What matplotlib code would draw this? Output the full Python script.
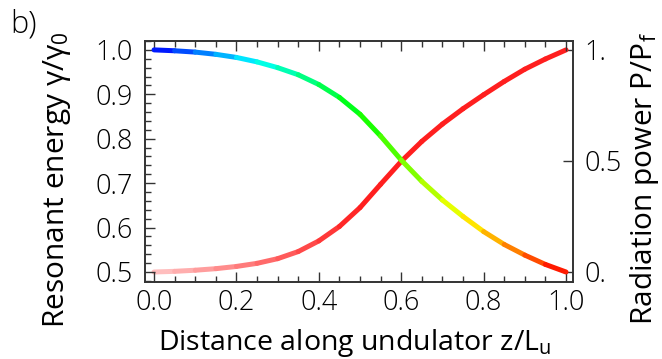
import numpy as np
import matplotlib
matplotlib.use('Agg')
import matplotlib.pyplot as plt
from matplotlib.collections import LineCollection
from matplotlib.ticker import MultipleLocator, FixedLocator, FixedFormatter
import colorsys

plt.rcParams['font.family'] = ['Open Sans', 'DejaVu Sans']
plt.rcParams['font.weight'] = 'light'
plt.rcParams['mathtext.fontset'] = 'custom'
plt.rcParams['mathtext.rm'] = 'Open Sans:light'
plt.rcParams['mathtext.it'] = 'Open Sans:light'

# Distance along undulator z/Lu
z = [0.00, 0.05, 0.10, 0.15, 0.20, 0.25, 0.30, 0.35, 0.40, 0.45, 0.50,
     0.55, 0.60, 0.65, 0.70, 0.75, 0.80, 0.85, 0.90, 0.95, 1.00]

# Resonant energy gamma/gamma0 (left axis)
gamma = [1.000, 0.998, 0.995, 0.990, 0.983, 0.973, 0.960, 0.944, 0.922, 0.893, 0.855,
         0.806, 0.752, 0.704, 0.662, 0.625, 0.591, 0.562, 0.538, 0.517, 0.500]

# Radiation power P/Pf (right axis)
power = [0.000, 0.003, 0.008, 0.015, 0.025, 0.039, 0.060, 0.092, 0.140, 0.205, 0.290,
         0.395, 0.498, 0.588, 0.666, 0.735, 0.798, 0.858, 0.913, 0.959, 1.000]

right_ticks = [0, 0.5, 1]
right_labels = ['0.', '0.5', '1.']

fs = 19.5
dark = '#333333'

fig = plt.figure(figsize=(6.62, 3.59), dpi=100)
ax = fig.add_axes([0.219, 0.2145, 0.6466, 0.6713])
ax2 = ax.twinx()

zz = np.array(z)
mid = (zz[:-1] + zz[1:]) / 2

# gamma curve, hue runs blue -> red along z
pts = np.column_stack([zz, gamma]).reshape(-1, 1, 2)
segs = np.concatenate([pts[:-1], pts[1:]], axis=1)
cols = [colorsys.hsv_to_rgb(2 / 3 * (1 - m), 1, 1) for m in mid]
lc = LineCollection(segs, colors=cols, linewidths=3.6, capstyle='round',
                    joinstyle='round', zorder=3)

# power curve, red getting stronger
pts2 = np.column_stack([zz, power]).reshape(-1, 1, 2)
segs2 = np.concatenate([pts2[:-1], pts2[1:]], axis=1)
cols2 = []
for m in mid:
    w = 0.75 * max(0.0, 1 - m / 0.5)
    cols2.append((1.0, 0.12 + 0.88 * w, 0.12 + 0.88 * w))
lc2 = LineCollection(segs2, colors=cols2, linewidths=3.6, capstyle='round',
                     joinstyle='round', zorder=2)
ax2.add_collection(lc2)
ax.add_collection(lc)
ax.set_zorder(ax2.get_zorder() + 1)
ax.patch.set_visible(False)

ax.set_xlim(-0.022, 1.017)
ax.set_ylim(0.4775, 1.020)
ax2.set_ylim((0.4775 - 0.5) * 2, (1.020 - 0.5) * 2)

ax.xaxis.set_major_locator(MultipleLocator(0.2))
ax.xaxis.set_minor_locator(MultipleLocator(0.05))
ax.yaxis.set_major_locator(MultipleLocator(0.1))
ax.yaxis.set_minor_locator(MultipleLocator(0.02))
ax.xaxis.set_major_formatter(matplotlib.ticker.FormatStrFormatter('%.1f'))
ax.yaxis.set_major_formatter(matplotlib.ticker.FormatStrFormatter('%.1f'))

ax.tick_params(which='both', direction='in', top=True, right=False,
               colors=dark, labelcolor='black', labelsize=fs, width=1.0)
ax.tick_params(which='major', length=7)
ax.tick_params(which='minor', length=4)
ax.tick_params(axis='y', pad=9)
ax.tick_params(axis='x', pad=5)

ax2.yaxis.set_major_locator(FixedLocator(right_ticks))
ax2.yaxis.set_major_formatter(FixedFormatter(right_labels))
ax2.tick_params(direction='in', length=7, width=1.0, colors=dark,
                labelcolor='black', labelsize=fs, pad=8)

for a in (ax, ax2):
    for s in a.spines.values():
        s.set_color(dark)
        s.set_linewidth(1.2)

ax.set_xlabel(r'Distance along undulator z/L$_{\mathregular{u}}$', fontsize=20.5)
ax.set_ylabel(r'Resonant energy γ/γ$_{\mathregular{0}}$', fontsize=21.5)
ax2.set_ylabel(r'Radiation power P/P$_{\mathregular{f}}$', fontsize=21.5)
ax.xaxis.set_label_coords(0.49, -0.185)
ax.yaxis.set_label_coords(-0.168, 0.425)
ax2.yaxis.set_label_coords(1.128, 0.43)

fig.text(0.015, 0.975, 'b)', fontsize=22, va='top', ha='left')

fig.savefig('out.png', dpi=100)
